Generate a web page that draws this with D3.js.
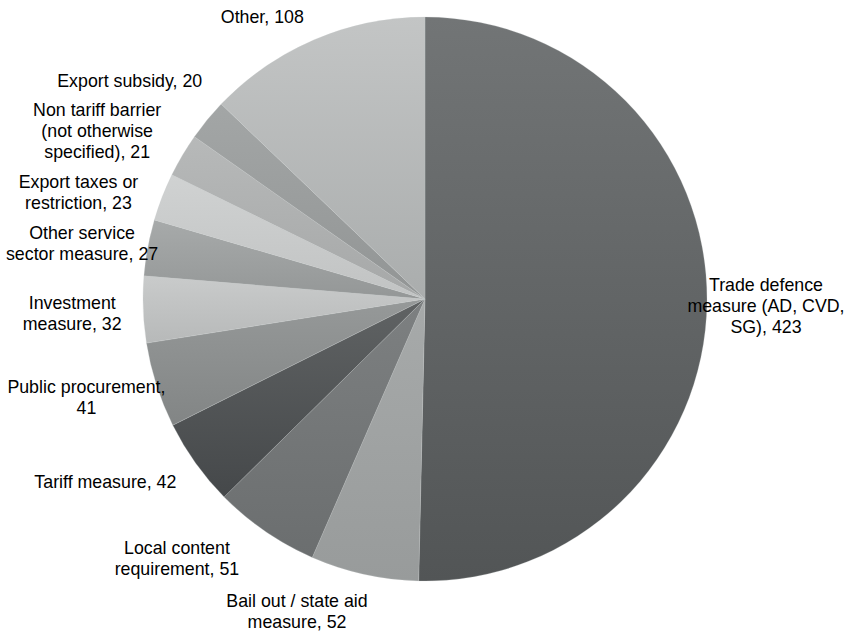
<!DOCTYPE html>
<html><head><meta charset="utf-8">
<script src="https://cdn.jsdelivr.net/npm/d3@7"></script>
<style>body{margin:0;background:#fff}svg{display:block}</style>
</head><body>
<svg id="chart" width="848" height="634"></svg>
<script>
// ---- data ----
const categories = [
  ["Trade defence", "measure (AD, CVD,", "SG), 423"],
  ["Bail out / state aid", "measure, 52"],
  ["Local content", "requirement, 51"],
  ["Tariff measure, 42"],
  ["Public procurement,", "41"],
  ["Investment", "measure, 32"],
  ["Other service", "sector measure, 27"],
  ["Export taxes or", "restriction, 23"],
  ["Non tariff barrier", "(not otherwise", "specified), 21"],
  ["Export subsidy, 20"],
  ["Other, 108"]
];
const values = [423, 52, 51, 42, 41, 32, 27, 23, 21, 20, 108];

// ---- styles / layout ----
const colorsTop    = ["#727576","#a7aaaa","#7d8081","#606364","#969999","#c9cbcb","#a7aaaa","#d0d2d2","#b7b9b9","#a3a6a6","#c3c5c5"];
const colorsBottom = ["#525556","#989b9b","#6b6e6f","#45484a","#828585","#b7b9b9","#949797","#c1c3c3","#a6a8a8","#929595","#aaadad"];
const labelNudge = [[39,3],[-63,17],[-77,10],[-74,7],[-51,6],[-51,3],[-46,-1],[-65,3],[-68,-14],[-62,-26],[-44,-5]];

const W = 848, H = 634, cx = 425, cy = 299, R = 282;
const svg = d3.select("#chart");
const defs = svg.append("defs");
values.forEach((v, i) => {
  const g = defs.append("linearGradient").attr("id", "g" + i)
    .attr("x1", 0).attr("y1", 0).attr("x2", 0).attr("y2", 1);
  g.append("stop").attr("offset", "0%").attr("stop-color", colorsTop[i]);
  g.append("stop").attr("offset", "100%").attr("stop-color", colorsBottom[i]);
});

const pie = d3.pie().sort(null).value(d => d);
const arcs = pie(values);
const arc = d3.arc().innerRadius(0).outerRadius(R);
const labelArc = d3.arc().innerRadius(R + 20).outerRadius(R + 20);

const g = svg.append("g").attr("transform", `translate(${cx},${cy})`);
g.selectAll("path.slice").data(arcs).join("path")
  .attr("class", "slice")
  .attr("d", arc)
  .attr("fill", (d, i) => `url(#g${i})`)
  .attr("stroke", "#c8caca").attr("stroke-width", 0.4).attr("stroke-opacity", 0.6);

const lineH = 21;
const lab = g.selectAll("text.lbl").data(arcs).join("text")
  .attr("class", "lbl")
  .attr("font-family", "'Liberation Sans', Arial, sans-serif")
  .attr("font-size", 17.8)
  .attr("fill", "#000")
  .attr("text-anchor", "middle")
  .each(function (d, i) {
    const [px, py] = labelArc.centroid(d);
    const x = px + labelNudge[i][0], y = py + labelNudge[i][1];
    const lines = categories[i];
    const y0 = y - (lines.length - 1) * lineH / 2;
    const t = d3.select(this);
    lines.forEach((ln, k) => {
      t.append("tspan").attr("x", x).attr("y", y0 + k * lineH).attr("dy", "0.35em").text(ln);
    });
  });
</script>
</body></html>
